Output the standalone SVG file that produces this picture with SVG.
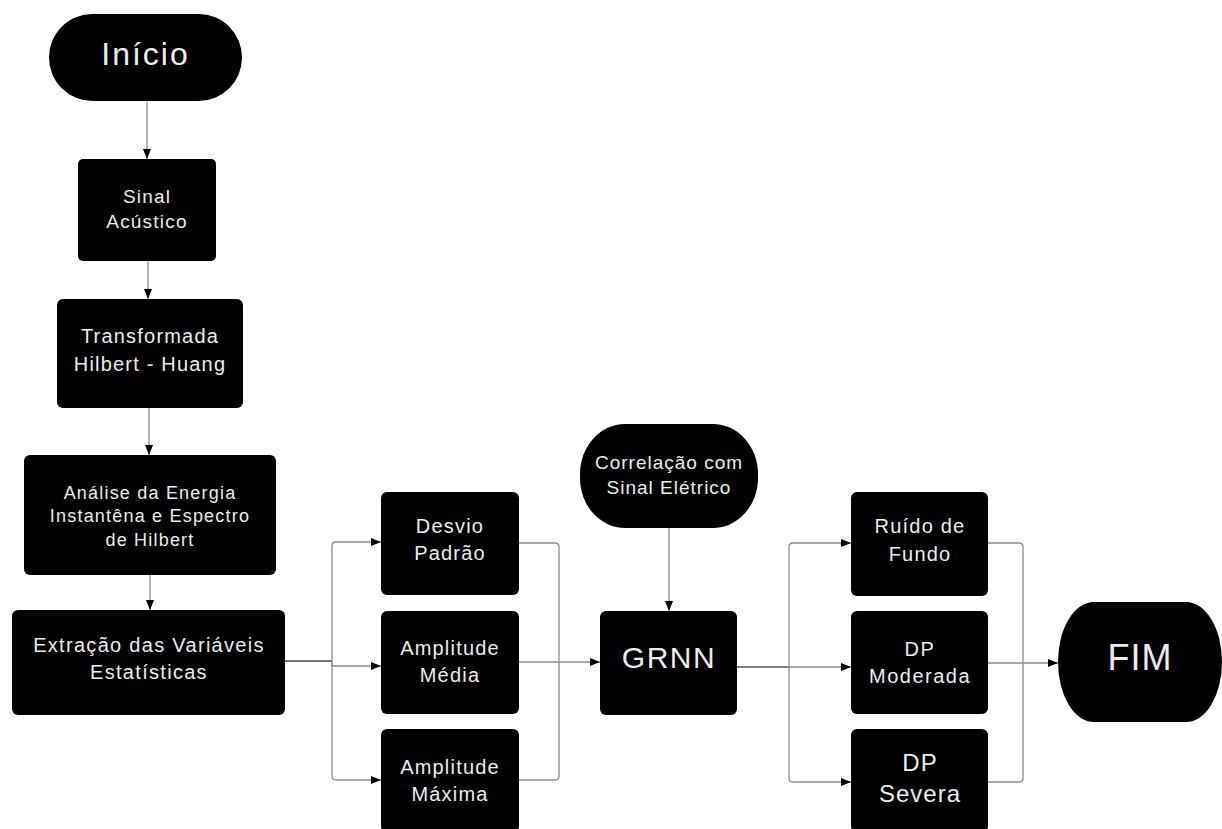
<svg xmlns="http://www.w3.org/2000/svg" width="1222" height="829" viewBox="0 0 1222 829">
<defs>
<marker id="ah" markerWidth="10" markerHeight="8" refX="10" refY="4" orient="auto" markerUnits="userSpaceOnUse">
<path d="M0,0 L10,4 L0,8 Z" fill="#000"/>
</marker>
<style>
.n{fill:#000}
.t{fill:#ececec;font-family:"Liberation Sans",Arial,sans-serif;text-anchor:middle;letter-spacing:1.2px}
.c{fill:none;stroke:#8c8c8c;stroke-width:1.3}
.a{marker-end:url(#ah)}
</style>
</defs>
<rect width="1222" height="829" fill="#fff"/>
<g id="connectors">
<path class="c a" d="M147,101 V159"/>
<path class="c a" d="M148,261 V299"/>
<path class="c a" d="M149,408 V455"/>
<path class="c a" d="M150,575 V610"/>
<path class="c" d="M285,661 H332" style="stroke:#444"/>
<path class="c a" d="M332,666 V546 Q332,542 336,542 H381"/>
<path class="c a" d="M332,661 V666 H381"/>
<path class="c a" d="M332,666 V776 Q332,780 336,780 H381"/>
<path class="c" d="M519,543 H555 Q559,543 559,547 V776 Q559,780 555,780 H519"/>
<path class="c a" d="M519,662 H600"/>
<path class="c a" d="M669,528 V611"/>
<path class="c" d="M737,667 H789" style="stroke:#555"/>
<path class="c a" d="M789,667 V547 Q789,543 793,543 H851"/>
<path class="c a" d="M789,667 H851"/>
<path class="c a" d="M789,667 V778 Q789,782 793,782 H851"/>
<path class="c" d="M988,543 H1019 Q1023,543 1023,547 V778 Q1023,782 1019,782 H988"/>
<path class="c a" d="M988,663 H1058"/>
</g>
<g id="inicio">
<rect class="n" x="49" y="14" width="193" height="87" rx="43.5" ry="43.5"/>
<text class="t" x="145.5" y="65" font-size="32" style="letter-spacing:2px">Início</text>
</g>
<g id="sinal">
<rect class="n" x="78" y="159" width="138" height="102" rx="5"/>
<text class="t" x="147" y="203" font-size="19">Sinal</text>
<text class="t" x="147" y="228" font-size="19">Acústico</text>
</g>
<g id="transformada">
<rect class="n" x="57" y="299" width="186" height="109" rx="6"/>
<text class="t" x="150" y="343" font-size="20">Transformada</text>
<text class="t" x="150" y="371" font-size="20">Hilbert - Huang</text>
</g>
<g id="analise">
<rect class="n" x="24" y="455" width="252" height="120" rx="6"/>
<text class="t" x="150" y="499" font-size="18">Análise da Energia</text>
<text class="t" x="150" y="522" font-size="18">Instantêna e Espectro</text>
<text class="t" x="150" y="546" font-size="18">de Hilbert</text>
</g>
<g id="extracao">
<rect class="n" x="12" y="610" width="273" height="105" rx="6"/>
<text class="t" x="149" y="652" font-size="20" style="letter-spacing:1.3px">Extração das Variáveis</text>
<text class="t" x="149" y="679" font-size="20" style="letter-spacing:1.3px">Estatísticas</text>
</g>
<g id="desvio">
<rect class="n" x="381" y="492" width="138" height="103" rx="6"/>
<text class="t" x="450" y="533" font-size="20">Desvio</text>
<text class="t" x="450" y="560" font-size="20">Padrão</text>
</g>
<g id="media">
<rect class="n" x="381" y="611" width="138" height="103" rx="6"/>
<text class="t" x="450" y="655" font-size="20">Amplitude</text>
<text class="t" x="450" y="682" font-size="20">Média</text>
</g>
<g id="maxima">
<rect class="n" x="381" y="729" width="138" height="103" rx="6"/>
<text class="t" x="450" y="774" font-size="20">Amplitude</text>
<text class="t" x="450" y="801" font-size="20">Máxima</text>
</g>
<g id="correlacao">
<rect class="n" x="580" y="424" width="178" height="104" rx="45" ry="50"/>
<text class="t" x="669" y="469" font-size="19" style="letter-spacing:1px">Correlação com</text>
<text class="t" x="669" y="494" font-size="19" style="letter-spacing:1px">Sinal Elétrico</text>
</g>
<g id="grnn">
<rect class="n" x="600" y="611" width="137" height="104" rx="6"/>
<text class="t" x="669" y="668" font-size="30" style="letter-spacing:1.5px">GRNN</text>
</g>
<g id="ruido">
<rect class="n" x="851" y="492" width="137" height="104" rx="6"/>
<text class="t" x="920" y="533" font-size="20">Ruído de</text>
<text class="t" x="920" y="561" font-size="20">Fundo</text>
</g>
<g id="moderada">
<rect class="n" x="851" y="611" width="137" height="103" rx="6"/>
<text class="t" x="920" y="656" font-size="20" style="letter-spacing:1.5px">DP</text>
<text class="t" x="920" y="683" font-size="20" style="letter-spacing:1.5px">Moderada</text>
</g>
<g id="severa">
<rect class="n" x="851" y="729" width="137" height="103" rx="6"/>
<text class="t" x="920" y="771" font-size="24" style="letter-spacing:1px">DP</text>
<text class="t" x="920" y="802" font-size="24" style="letter-spacing:1px">Severa</text>
</g>
<g id="fim">
<rect class="n" x="1058" y="602" width="164" height="120" rx="36" ry="60"/>
<text class="t" x="1140" y="670" font-size="36" style="letter-spacing:1px">FIM</text>
</g>
</svg>
